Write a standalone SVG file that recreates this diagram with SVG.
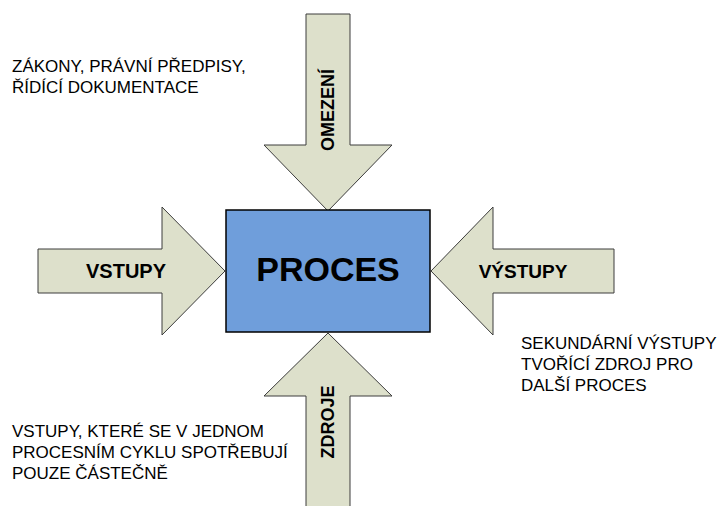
<svg xmlns="http://www.w3.org/2000/svg" width="717" height="506" viewBox="0 0 717 506">
<style>
.arrow{fill:#dde0cb;stroke:#3c3c3c;stroke-width:1}
.lbl{font-family:"Liberation Sans",Arial,sans-serif;font-weight:bold;font-size:19px;fill:#000}
.vlbl{font-family:"Liberation Sans",Arial,sans-serif;font-weight:bold;font-size:18px;fill:#000}
.note{font-family:"Liberation Sans",Arial,sans-serif;font-size:17px;fill:#000}
</style>
<rect width="717" height="506" fill="#fff"/>
<g id="connectors">
<g id="omezeni">
<polygon class="arrow" points="306,14 350,14 350,145 392,145 328,211 264,145 306,145"/>
<text class="vlbl" transform="translate(334,110) rotate(-90)" text-anchor="middle">OMEZENÍ</text>
</g>
<g id="vstupy">
<polygon class="arrow" points="38,249 162,249 162,207 225,271 162,335 162,293 38,293"/>
<text class="lbl" x="126" y="278" text-anchor="middle" style="font-size:20px">VSTUPY</text>
</g>
<g id="vystupy">
<polygon class="arrow" points="614,249 493,249 493,207 431,271 493,335 493,293 614,293"/>
<text class="lbl" x="523" y="278" text-anchor="middle">VÝSTUPY</text>
</g>
<g id="zdroje">
<polygon class="arrow" points="306,507 350,507 350,396 392,396 328,333 264,396 306,396"/>
<text class="vlbl" transform="translate(334,422) rotate(-90)" text-anchor="middle">ZDROJE</text>
</g>
</g>
<g id="proces">
<rect x="226" y="210" width="204" height="122" fill="#6f9edb" stroke="#000" stroke-width="1.5"/>
<text x="328" y="281" text-anchor="middle" style="font-family:'Liberation Sans',Arial,sans-serif;font-weight:bold;font-size:34px;fill:#000">PROCES</text>
</g>
<g id="note-omezeni">
<text class="note" x="12" y="72">ZÁKONY, PRÁVNÍ PŘEDPISY,</text>
<text class="note" x="12" y="93">ŘÍDÍCÍ DOKUMENTACE</text>
</g>
<g id="note-vystupy">
<text class="note" x="521" y="349">SEKUNDÁRNÍ VÝSTUPY</text>
<text class="note" x="521" y="370">TVOŘÍCÍ ZDROJ PRO</text>
<text class="note" x="521" y="391">DALŠÍ PROCES</text>
</g>
<g id="note-zdroje">
<text class="note" x="12" y="437">VSTUPY, KTERÉ SE V JEDNOM</text>
<text class="note" x="12" y="458">PROCESNÍM CYKLU SPOTŘEBUJÍ</text>
<text class="note" x="12" y="479">POUZE ČÁSTEČNĚ</text>
</g>
</svg>
